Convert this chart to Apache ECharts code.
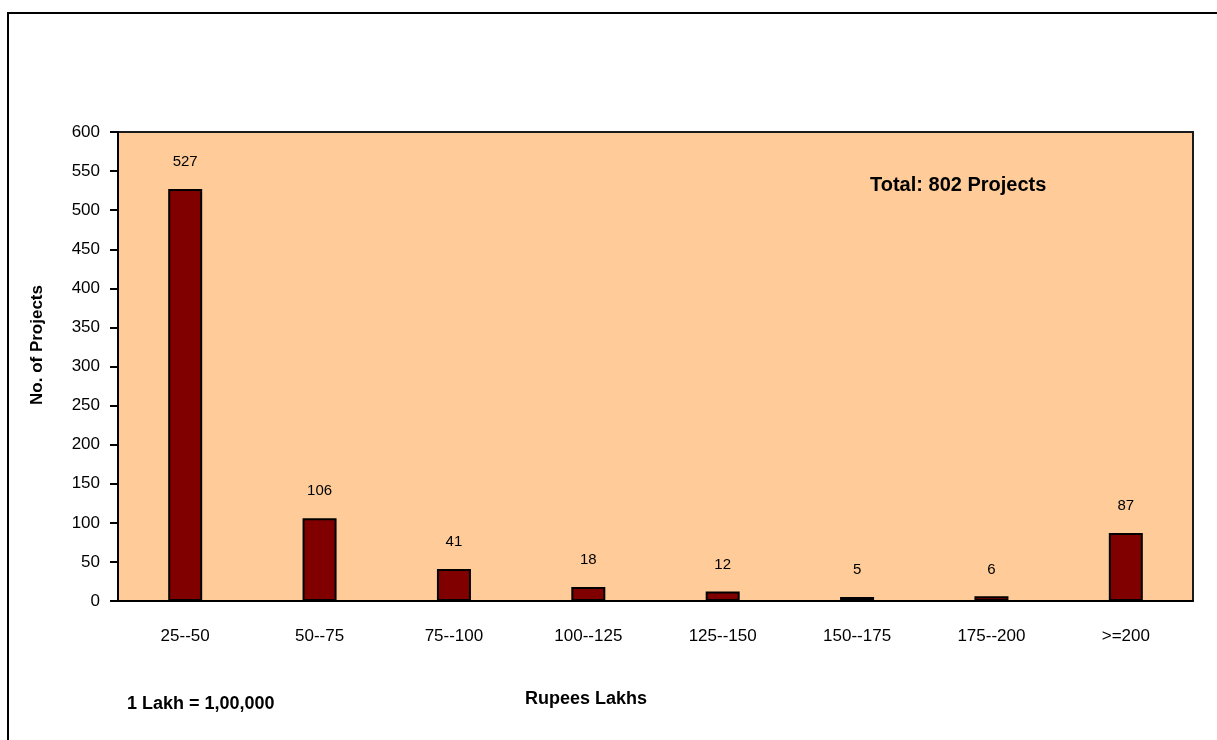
<html>
<head>
<title>Rupees Lakhs</title>
<script src="https://cdn.jsdelivr.net/npm/echarts@6/dist/echarts.min.js"></script>
<style type="text/css">
body{
	margin:0;
	background-color:white;
}
</style>
</head>
<body>
<div id="chart" style="width:1217px;height:740px;"></div>
<script type="text/javascript">
// data
var categories = ['25--50', '50--75', '75--100', '100--125', '125--150', '150--175', '175--200', '>=200'];
var projects = [527, 106, 41, 18, 12, 5, 6, 87];
var yTicks = [0, 50, 100, 150, 200, 250, 300, 350, 400, 450, 500, 550, 600];

var myChart = echarts.init(document.getElementById('chart'));
var font = 'Liberation Sans, Arial, sans-serif';

var option = {
	animation: false,
	textStyle: { fontFamily: font },
	grid: {
		left: 118, top: 132, width: 1075, height: 469,
		show: true,
		backgroundColor: '#FFCC99',
		borderColor: '#1a1a1a',
		borderWidth: 2
	},
	graphic: [
		// outer frame, only top and left edges are visible
		{ type: 'polyline', shape: { points: [[8, 740], [8, 13], [1217, 13]] }, style: { stroke: '#000', lineWidth: 2, fill: null } },
		{ type: 'text', left: 870, top: 168, style: { text: 'Total: 802 Projects', font: 'bold 20px ' + font, fill: '#000' } },
		{ type: 'text', left: 127, top: 689, style: { text: '1 Lakh = 1,00,000', font: 'bold 18px ' + font, fill: '#000' } },
		{ type: 'text', left: 525, top: 684, style: { text: 'Rupees Lakhs', font: 'bold 18px ' + font, fill: '#000' } },
		{ type: 'text', x: 37, y: 345, rotation: Math.PI / 2,
			style: { text: 'No. of Projects', font: 'bold 17px ' + font, fill: '#000', align: 'center', verticalAlign: 'middle' } }
	],
	xAxis: {
		type: 'category',
		data: categories,
		axisLine: { lineStyle: { color: '#000', width: 2 } },
		axisTick: { show: false },
		axisLabel: { fontSize: 17, color: '#000', margin: 21 }
	},
	yAxis: {
		type: 'value',
		min: yTicks[0],
		max: yTicks[yTicks.length - 1],
		interval: 50,
		axisLine: { show: true, lineStyle: { color: '#000', width: 2 } },
		axisTick: { show: true, length: 8, lineStyle: { color: '#000', width: 2 } },
		axisLabel: { fontSize: 17, color: '#000', margin: 18 },
		splitLine: { show: false }
	},
	series: [{
		name: 'Projects',
		type: 'bar',
		data: projects,
		barWidth: 34,
		itemStyle: { color: '#800000', borderColor: '#000', borderWidth: 2 },
		label: { show: true, position: 'top', distance: 14, fontSize: 15, color: '#000' }
	}]
};

myChart.setOption(option);
</script>
</body>
</html>
